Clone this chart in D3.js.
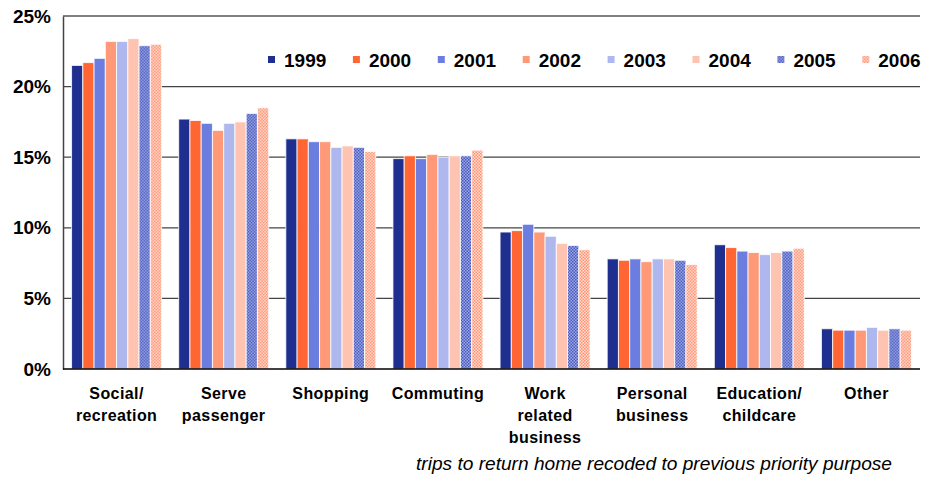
<!DOCTYPE html>
<html>
<head>
<meta charset="utf-8">
<script src="https://cdn.jsdelivr.net/npm/d3@7"></script>
<style>
  html, body { margin: 0; padding: 0; background: #fff; }
  svg { display: block; font-family: "Liberation Sans", Arial, sans-serif; }
</style>
</head>
<body>
<svg id="chart" width="933" height="477"></svg>
<script>
// Share of trips by purpose, 1999-2006
const categories = [
  ["Social/", "recreation"],
  ["Serve", "passenger"],
  ["Shopping"],
  ["Commuting"],
  ["Work", "related", "business"],
  ["Personal", "business"],
  ["Education/", "childcare"],
  ["Other"]
];
const years = ["1999", "2000", "2001", "2002", "2003", "2004", "2005", "2006"];

const v1999 = [21.5, 17.7, 16.3, 14.9, 9.7, 7.8, 8.8, 2.85];
const v2000 = [21.7, 17.6, 16.3, 15.1, 9.8, 7.7, 8.6, 2.75];
const v2001 = [22.0, 17.4, 16.1, 14.9, 10.25, 7.8, 8.35, 2.75];
const v2002 = [23.2, 16.9, 16.1, 15.2, 9.7, 7.6, 8.25, 2.75];
const v2003 = [23.2, 17.4, 15.7, 15.0, 9.4, 7.8, 8.1, 2.95];
const v2004 = [23.4, 17.5, 15.8, 15.1, 8.9, 7.8, 8.25, 2.75];
const v2005 = [22.9, 18.1, 15.7, 15.1, 8.75, 7.7, 8.35, 2.85];
const v2006 = [23.0, 18.5, 15.4, 15.5, 8.45, 7.4, 8.55, 2.75];
const series = [v1999, v2000, v2001, v2002, v2003, v2004, v2005, v2006];

const yTicks = [0, 5, 10, 15, 20, 25];
const footnote = "trips to return home recoded to previous priority purpose";

const fills = ["#1f2f8f", "#ff6633", "#6b7ee0", "#ff9977", "#aeb8ee", "#ffc4b1", "url(#pat2005)", "url(#pat2006)"];

const svg = d3.select("#chart");
const m = { left: 63, right: 920, top: 16, bottom: 369 };

// fine checkered fills for the last two years
const defs = svg.append("defs");
function checker(id, a, b) {
  const p = defs.append("pattern").attr("id", id)
    .attr("patternUnits", "userSpaceOnUse").attr("width", 3).attr("height", 3);
  p.append("rect").attr("width", 3).attr("height", 3).attr("fill", b);
  p.append("rect").attr("width", 1.5).attr("height", 1.5).attr("fill", a);
  p.append("rect").attr("x", 1.5).attr("y", 1.5).attr("width", 1.5).attr("height", 1.5).attr("fill", a);
}
checker("pat2005", "#4254b8", "#a3aeea");
checker("pat2006", "#ff8d6a", "#ffe2d8");

const x0 = d3.scaleBand().domain(d3.range(categories.length))
  .range([m.left, m.right]).paddingInner(0.16).paddingOuter(0.08);
const x1 = d3.scaleBand().domain(d3.range(years.length)).range([0, x0.bandwidth()]);
const y = d3.scaleLinear().domain([0, 25]).range([m.bottom, m.top]);

// gridlines
svg.append("g").selectAll("line").data(yTicks.filter(t => t > 0 && t < 25)).join("line")
  .attr("x1", m.left).attr("x2", m.right)
  .attr("y1", d => y(d)).attr("y2", d => y(d))
  .attr("stroke", "#444").attr("stroke-width", 1.2);

// top border
svg.append("line").attr("x1", m.left).attr("x2", m.right)
  .attr("y1", y(25)).attr("y2", y(25)).attr("stroke", "#555").attr("stroke-width", 1.5);

// bars
const groups = svg.append("g").selectAll("g").data(categories).join("g")
  .attr("transform", (d, i) => `translate(${x0(i)},0)`);
groups.selectAll("rect").data((d, i) => series.map((s, k) => ({ k, v: s[i] }))).join("rect")
  .attr("x", d => x1(d.k))
  .attr("width", x1.bandwidth())
  .attr("y", d => y(d.v))
  .attr("height", d => y(0) - y(d.v))
  .attr("fill", d => fills[d.k])
  .attr("stroke", "#fff").attr("stroke-opacity", 0.8).attr("stroke-width", 1);

// y axis
const yAxis = svg.append("g").attr("transform", `translate(${m.left},0)`)
  .call(d3.axisLeft(y).tickValues(yTicks).tickFormat(d => d + "%").tickSize(0).tickPadding(12));
yAxis.select(".domain").attr("stroke", "#444").attr("stroke-width", 1.5);
yAxis.selectAll("text").attr("font-size", 19).attr("font-weight", "bold")
  .attr("fill", "#000").attr("font-family", "Liberation Sans, Arial, sans-serif");

// x baseline
svg.append("line").attr("x1", m.left).attr("x2", m.right)
  .attr("y1", y(0)).attr("y2", y(0)).attr("stroke", "#000").attr("stroke-width", 1.5);

// category labels
const lab = svg.append("g").selectAll("text").data(categories).join("text")
  .attr("text-anchor", "middle").attr("font-size", 16).attr("font-weight", "bold")
  .attr("letter-spacing", 0.4)
  .attr("x", (d, i) => x0(i) + x0.bandwidth() / 2).attr("y", 399);
lab.selectAll("tspan").data(d => d).join("tspan")
  .attr("x", function () { return d3.select(this.parentNode).attr("x"); })
  .attr("dy", (d, i) => i === 0 ? 0 : 21.8)
  .text(d => d);

// legend
const leg = svg.append("g").selectAll("g").data(years).join("g")
  .attr("transform", (d, i) => `translate(${268 + i * 84.9},0)`);
leg.append("rect").attr("x", 0).attr("y", 56).attr("width", 7).attr("height", 7)
  .attr("fill", (d, i) => fills[i]);
leg.append("text").attr("x", 16).attr("y", 66.5).attr("font-size", 19).attr("font-weight", "bold")
  .text(d => d);

// footnote
svg.append("text").attr("x", 892).attr("y", 470).attr("text-anchor", "end")
  .attr("font-size", 18.5).attr("font-style", "italic")
  .attr("textLength", 476).attr("lengthAdjust", "spacingAndGlyphs")
  .text(footnote);
</script>
</body>
</html>
